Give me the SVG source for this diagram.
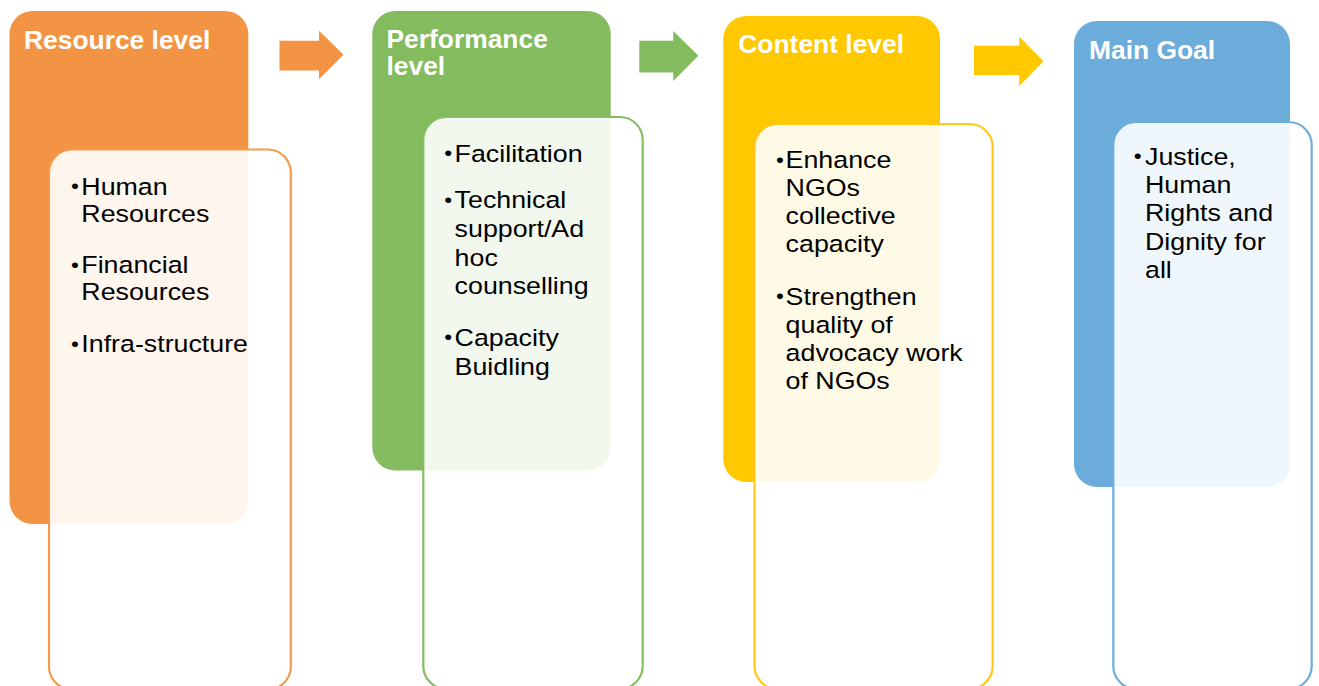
<svg xmlns="http://www.w3.org/2000/svg" width="1319" height="686" viewBox="0 0 1319 686">
<style>
.title{font-family:"Liberation Sans",Arial,sans-serif;font-weight:bold;font-size:26.4px;fill:#fff}
.b{font-family:"Liberation Sans",Arial,sans-serif;font-size:23.3px;fill:#000}
.d{font-family:"Liberation Sans",Arial,sans-serif;font-size:20px;fill:#000}
.inner{stroke-width:2.2}
</style>
<rect width="1319" height="686" fill="#fff"/>
<g id="connectors">
<polygon points="279.5,40.7 319,40.7 319,30.7 343.5,54.8 319,79.3 319,70.5 279.5,70.5" fill="#F29444"/>
<polygon points="639.3,40.7 673.3,40.7 673.3,31 698.3,55.8 673.3,81 673.3,72.5 639.3,72.5" fill="#83BB5E"/>
<polygon points="974,45.7 1019.3,45.7 1019.3,36.7 1043.5,61.2 1019.3,86 1019.3,75 974,75" fill="#FFC800"/>
</g>
<g id="resource">
<rect x="9.5" y="11" width="238.8" height="513" rx="23" fill="#F29444"/>
<rect class="inner" x="49" y="149.5" width="241.8" height="540" rx="23" fill="#fff" fill-opacity="0.9" stroke="#F39A4C"/>
<text class="title" x="24" y="49.3">Resource level</text>
<text class="d" transform="translate(71,-1.5) scale(1.13,1)"><tspan x="0" y="195">•</tspan><tspan x="0" y="273.5">•</tspan><tspan x="0" y="352.5">•</tspan></text>
<text class="b" transform="translate(81.3,0) scale(1.15,1)"><tspan x="0" y="195">Human</tspan><tspan x="0" y="222">Resources</tspan><tspan x="0" y="273.5">Financial</tspan><tspan x="0" y="300.5">Resources</tspan><tspan x="0" y="352.5">Infra-structure</tspan></text>
</g>
<g id="performance">
<rect x="372.3" y="11" width="238.4" height="459.5" rx="23" fill="#83BB5E"/>
<rect class="inner" x="423.3" y="117" width="219.4" height="572" rx="23" fill="#fff" fill-opacity="0.9" stroke="#86BD63"/>
<text class="title" x="386.5" y="47.7">Performance</text>
<text class="title" x="386.5" y="75">level</text>
<text class="d" transform="translate(444.3,-1.5) scale(1.13,1)"><tspan x="0" y="161.7">•</tspan><tspan x="0" y="208.3">•</tspan><tspan x="0" y="346">•</tspan></text>
<text class="b" transform="translate(454.6,0) scale(1.15,1)"><tspan x="0" y="161.7">Facilitation</tspan><tspan x="0" y="208.3">Technical</tspan><tspan x="0" y="237">support/Ad</tspan><tspan x="0" y="265.7">hoc</tspan><tspan x="0" y="294.3">counselling</tspan><tspan x="0" y="346">Capacity</tspan><tspan x="0" y="374.7">Buidling</tspan></text>
</g>
<g id="content">
<rect x="723.3" y="16" width="216.7" height="466" rx="23" fill="#FFC800"/>
<rect class="inner" x="754.5" y="124" width="238.2" height="565" rx="23" fill="#fff" fill-opacity="0.9" stroke="#FFC81A"/>
<text class="title" x="738.3" y="53.3">Content level</text>
<text class="d" transform="translate(776,-1.5) scale(1.13,1)"><tspan x="0" y="168.3">•</tspan><tspan x="0" y="305">•</tspan></text>
<text class="b" transform="translate(785.6,0) scale(1.15,1)"><tspan x="0" y="168.3">Enhance</tspan><tspan x="0" y="196.3">NGOs</tspan><tspan x="0" y="224.3">collective</tspan><tspan x="0" y="252.3">capacity</tspan><tspan x="0" y="305">Strengthen</tspan><tspan x="0" y="333">quality of</tspan><tspan x="0" y="361">advocacy work</tspan><tspan x="0" y="389">of NGOs</tspan></text>
</g>
<g id="goal">
<rect x="1074" y="21" width="216" height="466" rx="23" fill="#6BACDB"/>
<rect class="inner" x="1113.3" y="122" width="198.4" height="567" rx="23" fill="#fff" fill-opacity="0.9" stroke="#6DAEDC"/>
<text class="title" x="1089" y="59">Main Goal</text>
<text class="d" transform="translate(1133.7,-1.5) scale(1.13,1)"><tspan x="0" y="165">•</tspan></text>
<text class="b" transform="translate(1145,0) scale(1.15,1)"><tspan x="0" y="165">Justice,</tspan><tspan x="0" y="193">Human</tspan><tspan x="0" y="221.5">Rights and</tspan><tspan x="0" y="250">Dignity for</tspan><tspan x="0" y="278.5">all</tspan></text>
</g>
</svg>
